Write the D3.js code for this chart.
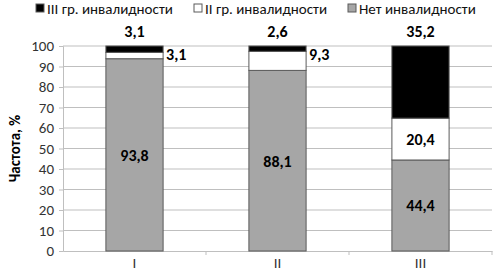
<!DOCTYPE html>
<html>
<head>
<meta charset="utf-8">
<script src="https://d3js.org/d3.v7.min.js"></script>
<style>
  body { margin: 0; background: #fff; }
  text { font-family: Calibri, Carlito, "Open Sans", sans-serif; }
</style>
</head>
<body>
<div id="chart"></div>
<script>
// data
var categories = ["I", "II", "III"];
var seriesNames = ["Нет инвалидности", "II гр. инвалидности", "III гр. инвалидности"];
var none = [93.8, 88.1, 44.4];
var second = [3.1, 9.3, 20.4];
var third = [3.1, 2.6, 35.2];
var yTicks = [0, 10, 20, 30, 40, 50, 60, 70, 80, 90, 100];

var colors = ["#a6a6a6", "#ffffff", "#000000"];

var width = 493, height = 273;
var margin = { top: 46, right: 1, bottom: 22, left: 63 };
var w = width - margin.left - margin.right;
var h = height - margin.top - margin.bottom;

var svg = d3.select("#chart").append("svg")
    .attr("width", width)
    .attr("height", height);

var g = svg.append("g")
    .attr("transform", "translate(" + margin.left + "," + margin.top + ")");

var xBand = d3.scaleBand().domain(categories).range([0, w]);
var y = d3.scaleLinear().domain([0, 100]).range([h, 0]);

// gridlines
g.selectAll(".grid")
    .data(yTicks.slice(1))
    .enter().append("line")
    .attr("x1", 0).attr("x2", w)
    .attr("y1", function (d) { return y(d); })
    .attr("y2", function (d) { return y(d); })
    .attr("stroke", "#bfbfbf").attr("stroke-width", 1);

// y axis
var yAxis = g.append("g").call(d3.axisLeft(y).tickValues(yTicks).tickSize(4).tickPadding(5));
yAxis.select(".domain").attr("stroke", "#bfbfbf");
yAxis.selectAll(".tick line").attr("stroke", "#bfbfbf");
yAxis.selectAll("text").attr("font-size", 15).attr("fill", "#333");

// x axis
var xAxis = g.append("g").attr("transform", "translate(0," + h + ")")
    .call(d3.axisBottom(xBand).tickSize(0).tickPadding(6));
xAxis.select(".domain").attr("stroke", "#bfbfbf");
xAxis.selectAll("text").attr("font-size", 15).attr("fill", "#333");
// category boundary ticks
g.selectAll(".xt")
    .data(categories)
    .enter().append("line")
    .attr("x1", function (d) { return xBand(d) + xBand.bandwidth(); })
    .attr("x2", function (d) { return xBand(d) + xBand.bandwidth(); })
    .attr("y1", h).attr("y2", h + 4)
    .attr("stroke", "#bfbfbf");

// stacked bars
var rows = categories.map(function (c, i) {
    return { cat: c, none: none[i], second: second[i], third: third[i] };
});
var stack = d3.stack().keys(["none", "second", "third"]);
var layers = stack(rows);

var bw = xBand.bandwidth() * 0.4;
function bx(d) { return xBand(d.data.cat) + (xBand.bandwidth() - bw) / 2; }

layers.forEach(function (layer, li) {
    g.selectAll(".bar" + li)
        .data(layer)
        .enter().append("rect")
        .attr("x", bx)
        .attr("width", bw)
        .attr("y", function (d) { return y(d[1]); })
        .attr("height", function (d) { return y(d[0]) - y(d[1]); })
        .attr("fill", colors[li])
        .attr("stroke", "#5a5a5a")
        .attr("stroke-width", 1);
});

// labels
function fmt(v) { return String(v).replace(".", ","); }
var lab = g.append("g").attr("font-weight", "bold").attr("font-size", 16).attr("fill", "#000");

// gray labels in middle
layers[0].forEach(function (d, i) {
    lab.append("text")
        .attr("x", bx(d) + bw / 2)
        .attr("y", y((d[0] + d[1]) / 2) + 6)
        .attr("text-anchor", "middle")
        .text(fmt(none[i]));
});
// white labels: right of bar when thin, inside when big
layers[1].forEach(function (d, i) {
    if (second[i] > 15) {
        lab.append("text")
            .attr("x", bx(d) + bw / 2)
            .attr("y", y((d[0] + d[1]) / 2) + 6)
            .attr("text-anchor", "middle")
            .text(fmt(second[i]));
    } else {
        lab.append("text")
            .attr("x", bx(d) + bw + 3)
            .attr("y", y(100) + 14)
            .attr("text-anchor", "start")
            .text(fmt(second[i]));
    }
});
// black labels above bars
layers[2].forEach(function (d, i) {
    lab.append("text")
        .attr("x", bx(d) + bw / 2)
        .attr("y", y(100) - 9)
        .attr("text-anchor", "middle")
        .text(fmt(third[i]));
});

// y title
svg.append("text")
    .attr("transform", "translate(20," + (margin.top + h / 2) + ") rotate(-90)")
    .attr("text-anchor", "middle")
    .attr("font-size", 15).attr("font-weight", "bold")
    .text("Частота, %");

// legend
var legendItems = [
    { name: seriesNames[2], color: colors[2], x: 36 },
    { name: seriesNames[1], color: colors[1], x: 194 },
    { name: seriesNames[0], color: colors[0], x: 348 }
];
var lg = svg.append("g");
legendItems.forEach(function (it) {
    lg.append("rect").attr("x", it.x).attr("y", 4).attr("width", 8).attr("height", 8)
        .attr("fill", it.color).attr("stroke", "#5a5a5a");
    lg.append("text").attr("x", it.x + 11).attr("y", 14)
        .attr("font-size", 15).attr("fill", "#111").text(it.name);
});
</script>
</body>
</html>
